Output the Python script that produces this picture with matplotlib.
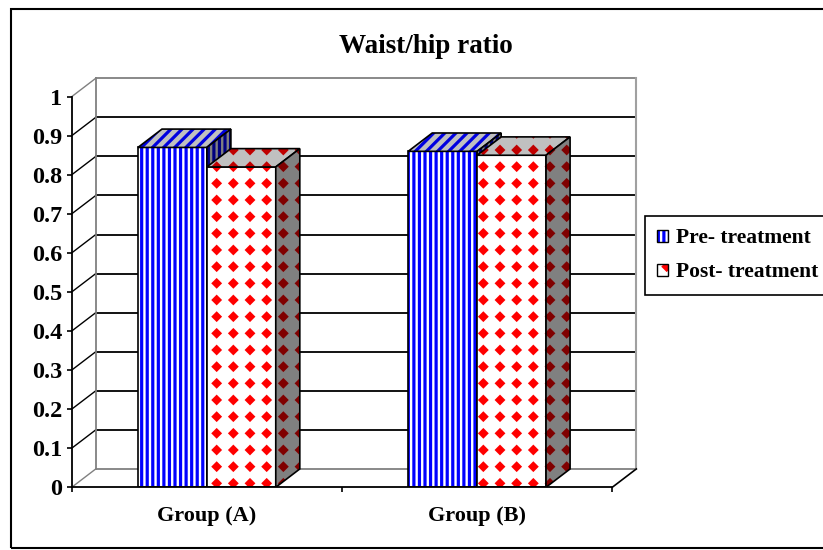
import numpy as np
import matplotlib
matplotlib.use('Agg')
import matplotlib.pyplot as plt
import matplotlib.hatch as mhatch
from matplotlib.path import Path
from matplotlib.patches import Polygon, Rectangle, Patch

# data
groups = ['Group (A)', 'Group (B)']
series = ['Pre- treatment', 'Post- treatment']
pre_values = [0.87, 0.86]
post_values = [0.82, 0.85]
y_ticks = [0, 0.1, 0.2, 0.3, 0.4, 0.5, 0.6, 0.7, 0.8, 0.9, 1]
y_labels = ['0', '0.1', '0.2', '0.3', '0.4', '0.5', '0.6', '0.7', '0.8', '0.9', '1']

FONT = 'Liberation Serif'
DX, DY = 0.089, 0.047   # depth offset of the back wall (category / value units)
BAR_W = 0.255

plt.rcParams['hatch.linewidth'] = 2.3


# filled diamond hatch on a square grid, used for the "*" hatch character
class DiamondHatch(mhatch.HatchPatternBase):
    size = 0.19

    def __init__(self, hatch, density):
        self.num_rows = hatch.count('*') * density
        self.num_vertices = (self.num_rows + 1) ** 2 * 5 if self.num_rows else 0

    def set_vertices_and_codes(self, vertices, codes):
        step = 1.0 / self.num_rows
        r = step * self.size
        shape = np.array([[0, r], [r, 0], [0, -r], [-r, 0], [0, r]])
        grid = np.arange(self.num_rows + 1) * step
        k = 0
        for cx in grid:
            for cy in grid:
                vertices[k:k + 5] = shape + (cx, cy)
                codes[k:k + 5] = [Path.MOVETO, Path.LINETO, Path.LINETO,
                                  Path.LINETO, Path.CLOSEPOLY]
                k += 5


mhatch._hatch_types = [h for h in mhatch._hatch_types if h is not mhatch.Stars] + [DiamondHatch]

fig = plt.figure(figsize=(8.23, 5.5), dpi=100)
ax = fig.add_axes([71.7 / 823, (550 - 487.3) / 550, 564.6 / 823, 409 / 550])
ax.set_xlim(0, 2 + DX)
ax.set_ylim(0, 1 + DY)
ax.patch.set_visible(False)


def hatched(xy, fc, hc, hatch, zorder=3):
    ax.add_patch(Polygon(xy, closed=True, facecolor=fc, edgecolor=hc, hatch=hatch,
                         linewidth=0, zorder=zorder))
    ax.add_patch(Polygon(xy, closed=True, fill=False, edgecolor='black',
                         linewidth=1.2, zorder=zorder))


# walls and floor
grey = '#808080'
for v in y_ticks:
    c = grey if v in (0, 1) else 'black'
    ax.plot([DX, 2 + DX], [v + DY, v + DY], color=c, lw=1.3, clip_on=False, zorder=1)
    if v > 0:
        ax.plot([0, DX], [v, v + DY], color=c, lw=1.0, clip_on=False, zorder=1)
ax.plot([DX, DX], [DY, 1 + DY], color=grey, lw=1.3, clip_on=False, zorder=1)
ax.plot([2 + DX, 2 + DX], [DY, 1 + DY], color='#a0a0a0', lw=1.5, clip_on=False, zorder=1)
ax.plot([0, DX], [0, DY], color=grey, lw=1.0, clip_on=False, zorder=1)
ax.plot([2, 2 + DX], [0, DY], color='black', lw=1.2, clip_on=False, zorder=1)

# bars
styles = [
    dict(front=('white', '#0000ff', '|||'), top=('#c0c0c0', '#0000e0', '///'),
         side=('#808080', '#000080', '|||')),
    dict(front=('white', '#ff0000', '*'), top=('#c0c0c0', '#c00000', '*'),
         side=('#808080', '#800000', '*')),
]
for i in range(len(groups)):
    for s, vals in enumerate([pre_values, post_values]):
        v = vals[i]
        x0 = i + 0.5 - BAR_W + s * BAR_W
        x1 = x0 + BAR_W
        st = styles[s]
        hatched([(x0, 0), (x1, 0), (x1, v), (x0, v)], *st['front'])
        hatched([(x0, v), (x1, v), (x1 + DX, v + DY), (x0 + DX, v + DY)], *st['top'])
        hatched([(x1, 0), (x1 + DX, DY), (x1 + DX, v + DY), (x1, v)], *st['side'])

# axes
for side in ('top', 'right'):
    ax.spines[side].set_visible(False)
ax.spines['left'].set_bounds(0, 1)
ax.spines['bottom'].set_bounds(0, 2)
for side in ('left', 'bottom'):
    ax.spines[side].set_linewidth(1.3)
    ax.spines[side].set_zorder(5)
ax.set_yticks(y_ticks)
ax.set_yticklabels(y_labels)
ax.set_xticks([0, 1, 2])
ax.set_xticklabels([])
ax.set_xticks([0.5, 1.5], minor=True)
ax.set_xticklabels(groups, minor=True)
ax.tick_params(axis='y', direction='out', length=3.6, width=1.2, pad=3)
ax.tick_params(axis='x', which='major', direction='out', length=3.6, width=1.2)
ax.tick_params(axis='x', which='minor', length=0, pad=13.5)
for lab in ax.get_yticklabels():
    lab.set_fontfamily(FONT)
    lab.set_fontweight('bold')
    lab.set_fontsize(17.5)
for lab in ax.get_xticklabels(minor=True):
    lab.set_fontfamily(FONT)
    lab.set_fontweight('bold')
    lab.set_fontsize(16)

# title
fig.text(426 / 823, (550 - 53) / 550, 'Waist/hip ratio', ha='center', va='baseline',
         fontfamily=FONT, fontweight='bold', fontsize=19.5)

# legend
handles = []
for st in styles:
    fc, hc, h = st['front']
    handles.append((Patch(facecolor=fc, edgecolor=hc, hatch=h, linewidth=0),
                    Patch(fill=False, edgecolor='black', linewidth=1.0)))
leg = fig.legend(handles, series, loc='upper left',
                 bbox_to_anchor=(645 / 823, (550 - 216) / 550), borderaxespad=0,
                 prop=dict(family=FONT, weight='bold', size=15.5),
                 fancybox=False, edgecolor='black', framealpha=1,
                 borderpad=0.58, labelspacing=0.65, handlelength=0.5,
                 handleheight=0.5, handletextpad=0.35)
leg.get_frame().set_linewidth(1.2)

# outer chart frame
fig.add_artist(Rectangle((11 / 823, 2 / 550), 830 / 823, 539 / 550,
                         transform=fig.transFigure, fill=False,
                         edgecolor='black', linewidth=1.5))

fig.savefig('out.png', dpi=100)
